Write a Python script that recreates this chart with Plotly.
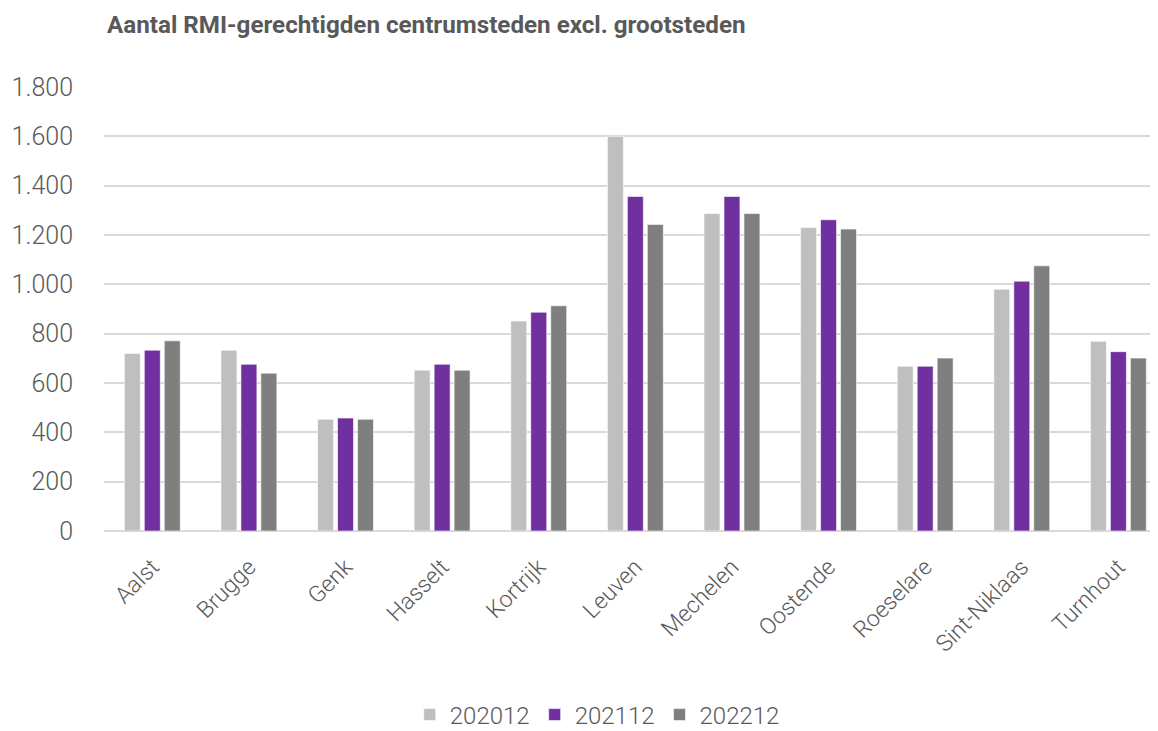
import plotly.graph_objects as go

cities = ["Aalst", "Brugge", "Genk", "Hasselt", "Kortrijk", "Leuven", "Mechelen",
          "Oostende", "Roeselare", "Sint-Niklaas", "Turnhout"]
v202012 = [720, 733, 453, 652, 851, 1600, 1287, 1230, 668, 980, 769]
v202112 = [733, 676, 458, 676, 887, 1356, 1356, 1262, 668, 1013, 727]
v202212 = [771, 640, 453, 652, 913, 1243, 1287, 1224, 701, 1075, 701]
series_names = ["202012", "202112", "202212"]
colors = ["#BFBFBF", "#7030A0", "#7F7F7F"]
yticks = [0, 200, 400, 600, 800, 1000, 1200, 1400, 1600, 1800]
ytick_text = ["0", "200", "400", "600", "800", "1.000", "1.200", "1.400", "1.600", "1.800"]

FONT = "Roboto"
TXT = "#595959"
# page body has an 8px default margin -> compensate
OFF = 8
W, H = 1158 - OFF, 731 - OFF

fig = go.Figure()
for name, vals, col in zip(series_names, [v202012, v202112, v202212], colors):
    fig.add_trace(go.Bar(
        x=cities, y=vals, name=name,
        marker=dict(color=col, line=dict(color="rgba(255,255,255,0.6)", width=1)),
    ))

fig.update_layout(
    width=W, height=H,
    paper_bgcolor="white", plot_bgcolor="white",
    margin=dict(l=104 - OFF, r=0, t=87 - OFF, b=H - (531 - OFF), autoexpand=False),
    barmode="group", bargap=0.38, bargroupgap=0.2,
    title=dict(text="<b>Aantal RMI-gerechtigden centrumsteden excl. grootsteden</b>",
               x=(107 - OFF) / W, xanchor="left", y=1 - (25 - OFF) / H, yanchor="middle",
               font=dict(family=FONT, size=24.2, color=TXT)),
    font=dict(family=FONT, color=TXT),
    showlegend=True,
    legend=dict(orientation="h", x=0.468, xanchor="center", y=-(715 - 531) / 444, yanchor="middle",
                font=dict(family=FONT, size=24, color=TXT, weight=300),
                itemwidth=30, tracegroupgap=0),
)
fig.update_xaxes(
    range=[-0.5, 10.41], tickangle=-45, showgrid=False, showline=False,
    tickfont=dict(family=FONT, size=23, color=TXT, weight=300),
    ticklabelstandoff=17, automargin=False,
)
fig.update_yaxes(
    range=[0, 1800], tickvals=yticks, ticktext=ytick_text,
    showgrid=True, gridcolor="#D9D9D9", gridwidth=1.5,
    zeroline=True, zerolinecolor="#D9D9D9", zerolinewidth=1.5,
    tickfont=dict(family=FONT, size=25, color=TXT, weight=300),
    ticklabelstandoff=30, automargin=False,
)

fig.write_html("out.html")
